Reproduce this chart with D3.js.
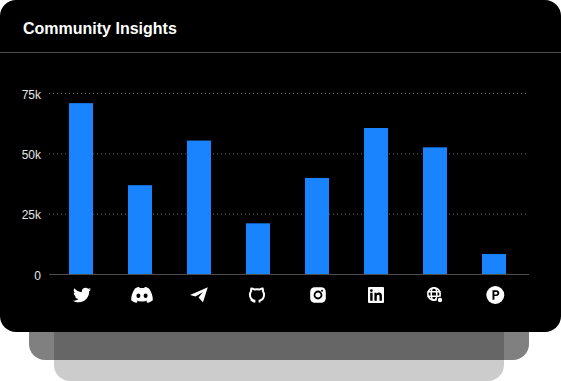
<!DOCTYPE html>
<html>
<head>
<meta charset="utf-8">
<script src="https://cdn.jsdelivr.net/npm/d3@7"></script>
<style>
  html, body { margin: 0; padding: 0; background: #fff; overflow: hidden; }
  text { font-family: "Liberation Sans", Arial, sans-serif; }
</style>
</head>
<body>
<div id="chart"></div>
<script>
// dados do gráfico
const channels = ["twitter", "discord", "telegram", "github", "instagram", "linkedin", "web", "producthunt"];
const members = [71000, 37000, 55500, 21200, 40000, 60700, 52700, 8500];
const tickValues = [0, 25000, 50000, 75000];
const tickLabels = ["0", "25k", "50k", "75k"];
const title = "Community Insights";

const W = 561, H = 381;

const svg = d3.select("#chart").append("svg")
    .attr("width", W)
    .attr("height", H)
    .style("display", "block");

// camadas de fundo do cartão
svg.append("path").attr("fill", "#cccccc")
    .attr("d", "M54 340H504V365a16 16 0 0 1 -16 16H70a16 16 0 0 1 -16 -16Z");
svg.append("path").attr("fill", "#808080")
    .attr("d", "M29 320H529V344a16 16 0 0 1 -16 16H45a16 16 0 0 1 -16 -16Z");
svg.append("rect").attr("x", 54).attr("y", 320).attr("width", 450).attr("height", 40).attr("fill", "#666666");
svg.append("rect").attr("width", W).attr("height", 332).attr("rx", 16).attr("fill", "#000");

svg.append("text")
    .attr("x", 23).attr("y", 34)
    .attr("fill", "#fff")
    .attr("font-size", 16).attr("font-weight", 700)
    .text(title);

svg.append("line")
    .attr("x1", 0).attr("x2", W).attr("y1", 52.5).attr("y2", 52.5)
    .attr("stroke", "#4d4d4d");

// escalas
const x = d3.scaleBand().domain(channels).range([51.5, 523.5])
    .paddingInner(0.593).paddingOuter(0.2965);
const y = d3.scaleLinear().domain([0, 75000]).range([274.5, 93.5]);

// linhas de grade
svg.append("g").selectAll("line")
    .data(tickValues.slice(1))
    .enter().append("line")
    .attr("x1", 49).attr("x2", 529)
    .attr("y1", d => y(d)).attr("y2", d => y(d))
    .attr("stroke", "#666")
    .attr("stroke-dasharray", "1 3");

// barras
svg.append("g").selectAll("rect")
    .data(members)
    .enter().append("rect")
    .attr("x", (d, i) => x(channels[i]))
    .attr("y", d => y(d))
    .attr("width", x.bandwidth())
    .attr("height", d => y(0) - y(d))
    .attr("fill", "#1a84ff");

// eixo zero
svg.append("line")
    .attr("x1", 49).attr("x2", 529).attr("y1", y(0)).attr("y2", y(0))
    .attr("stroke", "#4d4d4d");

// eixo y
const yAxis = d3.axisLeft(y).tickValues(tickValues)
    .tickSize(0).tickPadding(0)
    .tickFormat((d, i) => tickLabels[i]);
const yg = svg.append("g").attr("transform", "translate(41,0)").call(yAxis);
yg.select(".domain").remove();
yg.selectAll("text").attr("fill", "#e6e6e6").attr("font-size", 12).attr("dy", "0.4em")
    .style("font-family", '"Liberation Sans", Arial, sans-serif');

// ícones do eixo x
const icons = {
  twitter: g => g.append("path")
      .attr("transform", "translate(-8,-9) scale(0.03516)")
      .attr("d", "M459.37 151.716c.325 4.548.325 9.097.325 13.645 0 138.72-105.583 298.558-298.558 298.558-59.452 0-114.68-17.219-161.137-47.106 8.447.974 16.568 1.299 25.34 1.299 49.055 0 94.213-16.568 130.274-44.832-46.132-.975-84.792-31.188-98.112-72.772 6.498.974 12.995 1.624 19.818 1.624 9.421 0 18.843-1.3 27.614-3.573-48.081-9.747-84.143-51.98-84.143-102.985v-1.299c13.969 7.797 30.214 12.67 47.431 13.319-28.264-18.843-46.781-51.005-46.781-87.391 0-19.492 5.197-37.36 14.294-52.954 51.655 63.675 129.3 105.258 216.365 109.807-1.624-7.797-2.599-15.918-2.599-24.04 0-57.828 46.782-104.934 104.934-104.934 30.213 0 57.502 12.67 76.67 33.137 23.715-4.548 46.456-13.32 66.599-25.34-7.798 24.366-24.366 44.833-46.132 57.827 21.117-2.273 41.584-8.122 60.426-16.243-14.292 20.791-32.161 39.308-52.628 54.253z")
      .attr("fill", "#fff"),
  discord: g => {
    const k = g.append("g").attr("transform", "translate(2,0)");
    k.append("path").attr("fill", "#fff")
      .attr("d", "M-7 -6.5C-5 -7.6 -3.5 -8 -2.8 -8L-2.2 -6.8C-0.8 -7 0.8 -7 2.2 -6.8L2.8 -8C3.5 -8 5 -7.6 7 -6.5C9.5 -2.8 11 1.5 10.8 5.3C9 6.8 7.2 7.6 5.6 8L4.3 6C5 5.7 5.6 5.4 6.2 5C2 7 -2 7 -6.2 5C-5.6 5.4 -5 5.7 -4.3 6L-5.6 8C-7.2 7.6 -9 6.8 -10.8 5.3C-11 1.5 -9.5 -2.8 -7 -6.5Z");
    k.append("ellipse").attr("cx", -3.6).attr("cy", 0.8).attr("rx", 2).attr("ry", 2.2).attr("fill", "#000");
    k.append("ellipse").attr("cx", 3.6).attr("cy", 0.8).attr("rx", 2).attr("ry", 2.2).attr("fill", "#000");
  },
  telegram: g => g.append("path").attr("fill", "#fff")
      .attr("d", "M8.8 -7.8L4 7.2L-0.5 2.4L4 -3L-3.5 1.5L-9 0Z"),
  github: g => {
    const k = g.append("g").attr("transform", "translate(-1,0)")
        .attr("fill", "none").attr("stroke", "#fff").attr("stroke-width", 2);
    k.append("path")
      .attr("d", "M-2.6 7.4V5.6C-5.2 5 -7 3 -7 0C-7 -1.6 -6.6 -3 -5.8 -4C-6 -4.8 -6 -5.7 -5.6 -6.6C-4.6 -6.6 -3.6 -6.1 -2.7 -5.5C-1 -5.9 1 -5.9 2.7 -5.5C3.6 -6.1 4.6 -6.6 5.6 -6.6C6 -5.7 6 -4.8 5.8 -4C6.6 -3 7 -1.6 7 0C7 3 5.2 5 2.6 5.6V7.4");
    k.append("path").attr("stroke-width", 1.4).attr("d", "M-2.6 6.4C-4.6 6.8 -5.4 5.6 -6.2 4.8");
  },
  instagram: g => {
    const k = g.append("g").attr("transform", "translate(1,0)");
    k.append("rect").attr("x", -7.8).attr("y", -7.8).attr("width", 15.6).attr("height", 15.6).attr("rx", 4.5).attr("fill", "#fff");
    k.append("circle").attr("r", 3.5).attr("fill", "none").attr("stroke", "#000").attr("stroke-width", 1.8);
    k.append("circle").attr("cx", 4).attr("cy", -4.2).attr("r", 1).attr("fill", "#000");
  },
  linkedin: g => {
    g.append("rect").attr("x", -8).attr("y", -8).attr("width", 16).attr("height", 16).attr("rx", 1).attr("fill", "#fff");
    g.append("path").attr("fill", "#000")
      .attr("d", "M-5.8 -2.2H-3.4V5.8H-5.8ZM-4.6 -5.8A1.4 1.4 0 1 1 -4.6 -3A1.4 1.4 0 1 1 -4.6 -5.8ZM-1.6 -2.2H0.7V-1.1C1.2 -1.9 2.1 -2.4 3.2 -2.4C5.2 -2.4 5.9 -1.1 5.9 1V5.8H3.5V1.5C3.5 0.5 3.2 -0.3 2.2 -0.3C1.2 -0.3 0.8 0.5 0.8 1.5V5.8H-1.6Z");
  },
  web: g => {
    const k = g.append("g").attr("transform", "translate(-1,-1)");
    k.append("circle").attr("r", 6.2).attr("fill", "none").attr("stroke", "#fff").attr("stroke-width", 1.6);
    k.append("ellipse").attr("rx", 2.8).attr("ry", 6.2).attr("fill", "none").attr("stroke", "#fff").attr("stroke-width", 1.5);
    k.append("path").attr("stroke", "#fff").attr("stroke-width", 1.5).attr("d", "M-6.5 -2.2H6.5M-6.5 2.2H6.5");
    k.append("circle").attr("cx", 6).attr("cy", 6).attr("r", 3.2).attr("fill", "#000");
    k.append("circle").attr("cx", 6).attr("cy", 6).attr("r", 2.2).attr("fill", "#fff");
  },
  producthunt: g => {
    const k = g.append("g").attr("transform", "translate(1.3,0)");
    k.append("circle").attr("r", 9).attr("fill", "#fff");
    k.append("path").attr("fill", "#000").attr("fill-rule", "evenodd")
      .attr("d", "M-2.8 -4.8H1C3 -4.8 4 -3.4 4 -1.9C4 -0.3 3 1.1 1 1.1H-0.9V4.8H-2.8ZM-0.9 -3.1V-0.6H0.9C1.7 -0.6 2.1 -1.2 2.1 -1.9C2.1 -2.5 1.7 -3.1 0.9 -3.1Z");
  }
};

svg.append("g").selectAll("g")
    .data(channels)
    .enter().append("g")
    .attr("transform", d => `translate(${x(d) + x.bandwidth() / 2},295)`)
    .each(function(d) { icons[d](d3.select(this)); });
</script>
</body>
</html>
